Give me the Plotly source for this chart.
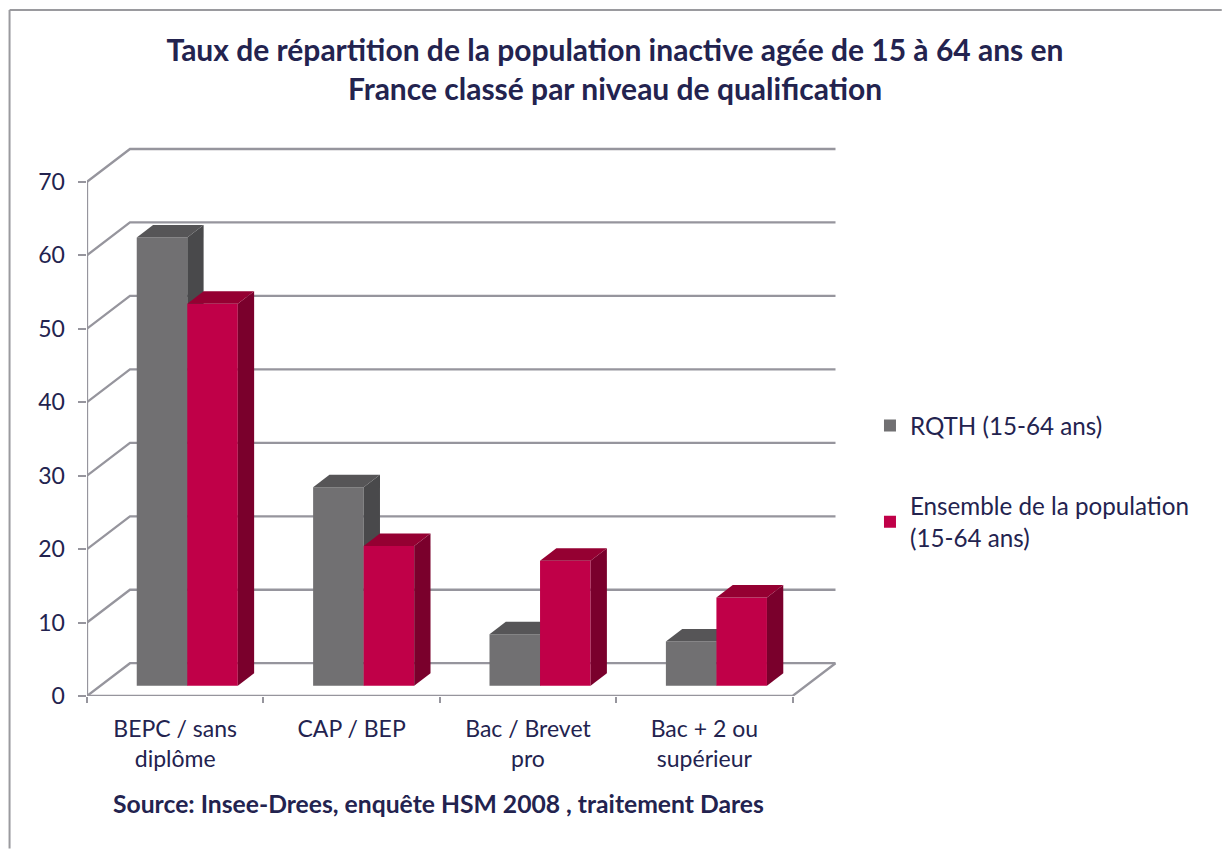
import plotly.graph_objects as go

categories = ["BEPC / sans<br>diplôme", "CAP / BEP", "Bac / Brevet<br>pro", "Bac + 2 ou<br>supérieur"]
rqth = [61, 27, 7, 6]
ensemble = [52, 19, 17, 12]
y_ticks = [0, 10, 20, 30, 40, 50, 60, 70]
title_text = "<b>Taux de répartition de la population inactive agée de 15 à 64 ans en<br>France classé par niveau de qualification</b>"
source_text = "<b>Source: Insee-Drees, enquête HSM 2008 , traitement Dares</b>"
name_a = "RQTH (15-64 ans)"
name_b = "Ensemble de la population<br>(15-64 ans)"

FONT = "Lato"
INK = "#23234f"
GRID = "#96959d"
W, H = 1222, 849
L, R, T, B = 86.5, 840, 146, 696.3
CAT_PX, VAL_PX = 176.5, 7.35
DX, DY = 43 / CAT_PX, 32.8 / VAL_PX   # full depth of the chart box, in data units
D0, D1 = 0.316, 0.696                 # depth span of the bars
GAP, BW = 0.205, 0.2865


def at(u, v, d):
    return u + d * DX, v + d * DY


# box: walls, floor and axis lines
gx, gy = [], []
def seg(points):
    for p in points:
        gx.append(p[0]); gy.append(p[1])
    gx.append(None); gy.append(None)

n = len(categories)
for v in y_ticks:
    seg([at(0, v, 0), at(0, v, 1), at(n, v, 1)])
seg([at(0, 0, 0), at(0, y_ticks[-1], 0)])
seg([at(0, 0, 0), at(n, 0, 0), at(n, 0, 1)])

fig = go.Figure()
fig.add_trace(go.Scatter(x=gx, y=gy, mode="lines", line=dict(color=GRID, width=2.3),
                         showlegend=False, hoverinfo="skip", cliponaxis=False))


def faces(values, slot, top_col, side_col, ax, ay):
    for i, v in enumerate(values):
        a = i + GAP + slot * BW
        b = a + BW
        side = [at(b, 0, D0), at(b, v, D0), at(b, v, D1), at(b, 0, D1), at(b, 0, D0)]
        top = [at(a, v, D0), at(b, v, D0), at(b, v, D1), at(a, v, D1), at(a, v, D0)]
        for poly, col in ((side, side_col), (top, top_col)):
            fig.add_trace(go.Scatter(x=[p[0] for p in poly], y=[p[1] for p in poly], mode="lines",
                                     fill="toself", fillcolor=col, line=dict(width=0),
                                     showlegend=False, hoverinfo="skip", xaxis=ax, yaxis=ay))


def fronts(values, slot, name, col, ax, ay):
    fig.add_trace(go.Bar(x=[at(i + GAP + (slot + 0.5) * BW, 0, D0)[0] for i in range(n)],
                         y=values, base=at(0, 0, D0)[1], width=BW, name=name,
                         marker=dict(color=col, line=dict(width=0)),
                         legendgroup=name, xaxis=ax, yaxis=ay))


fronts(rqth, 0, name_a, "#717072", "x2", "y2")
faces(rqth, 0, "#565557", "#49494b", "x2", "y2")
fronts(ensemble, 1, name_b, "#c00048", "x3", "y3")
faces(ensemble, 1, "#950032", "#7a002c", "x3", "y3")

xr = [0, (R - L) / CAT_PX]
yr = [0, (B - T) / VAL_PX]
PW, PH = R - L, B - T
fig.update_layout(
    width=W, height=H, autosize=False,
    margin=dict(l=L, r=W - R, t=T, b=H - B),
    paper_bgcolor="white", plot_bgcolor="rgba(0,0,0,0)",
    barmode="overlay",
    font=dict(family=FONT, size=23, color=INK),
    title=dict(text=title_text, x=615 / W, xanchor="center", y=1 - 61 / H, yanchor="top",
               font=dict(family=FONT, size=30, color=INK)),
    xaxis=dict(range=xr, showgrid=False, zeroline=False, showline=False, ticks="",
               tickvals=[i + 0.5 for i in range(n)], ticktext=categories, ticklabelstandoff=17,
               minor=dict(tickvals=list(range(n + 1)), ticks="outside", ticklen=6, tickwidth=2, tickcolor=GRID),
               tickfont=dict(size=23, family=FONT, color=INK)),
    yaxis=dict(range=yr, showgrid=False, zeroline=False, showline=False, ticks="outside", ticklen=8.5,
               tickwidth=2, tickcolor=GRID, tickvals=y_ticks, ticklabelstandoff=8,
               tickfont=dict(size=23, family=FONT, color=INK)),
    xaxis2=dict(range=xr, overlaying="x", visible=False),
    yaxis2=dict(range=yr, overlaying="y", visible=False),
    xaxis3=dict(range=xr, overlaying="x", visible=False),
    yaxis3=dict(range=yr, overlaying="y", visible=False),
    legend=dict(x=(870 - L) / PW, y=(B - 403.5) / PH, xanchor="left", yanchor="top", tracegroupgap=46,
                font=dict(size=24.2, family=FONT, color=INK), bgcolor="rgba(0,0,0,0)", itemclick=False),
    annotations=[dict(text=source_text, xref="paper", yref="paper", x=(438.5 - L) / PW,
                      y=-(804 - B) / PH, xanchor="center", yanchor="middle", showarrow=False,
                      font=dict(size=24.7, family=FONT, color=INK))],
    shapes=[dict(type="line", xref="paper", yref="paper", x0=-(L - 9) / PW, x1=(W - L) / PW,
                 y0=(B - 10) / PH, y1=(B - 10) / PH, line=dict(color="#9a9a9e", width=2)),
            dict(type="line", xref="paper", yref="paper", x0=-(L - 9) / PW, x1=-(L - 9) / PW,
                 y0=(B - 10) / PH, y1=(B - H) / PH, line=dict(color="#9a9a9e", width=2))],
)
fig.write_html("out.html", config={"displayModeBar": False},
               post_script="document.body.style.margin='0';document.body.style.overflow='hidden';")
